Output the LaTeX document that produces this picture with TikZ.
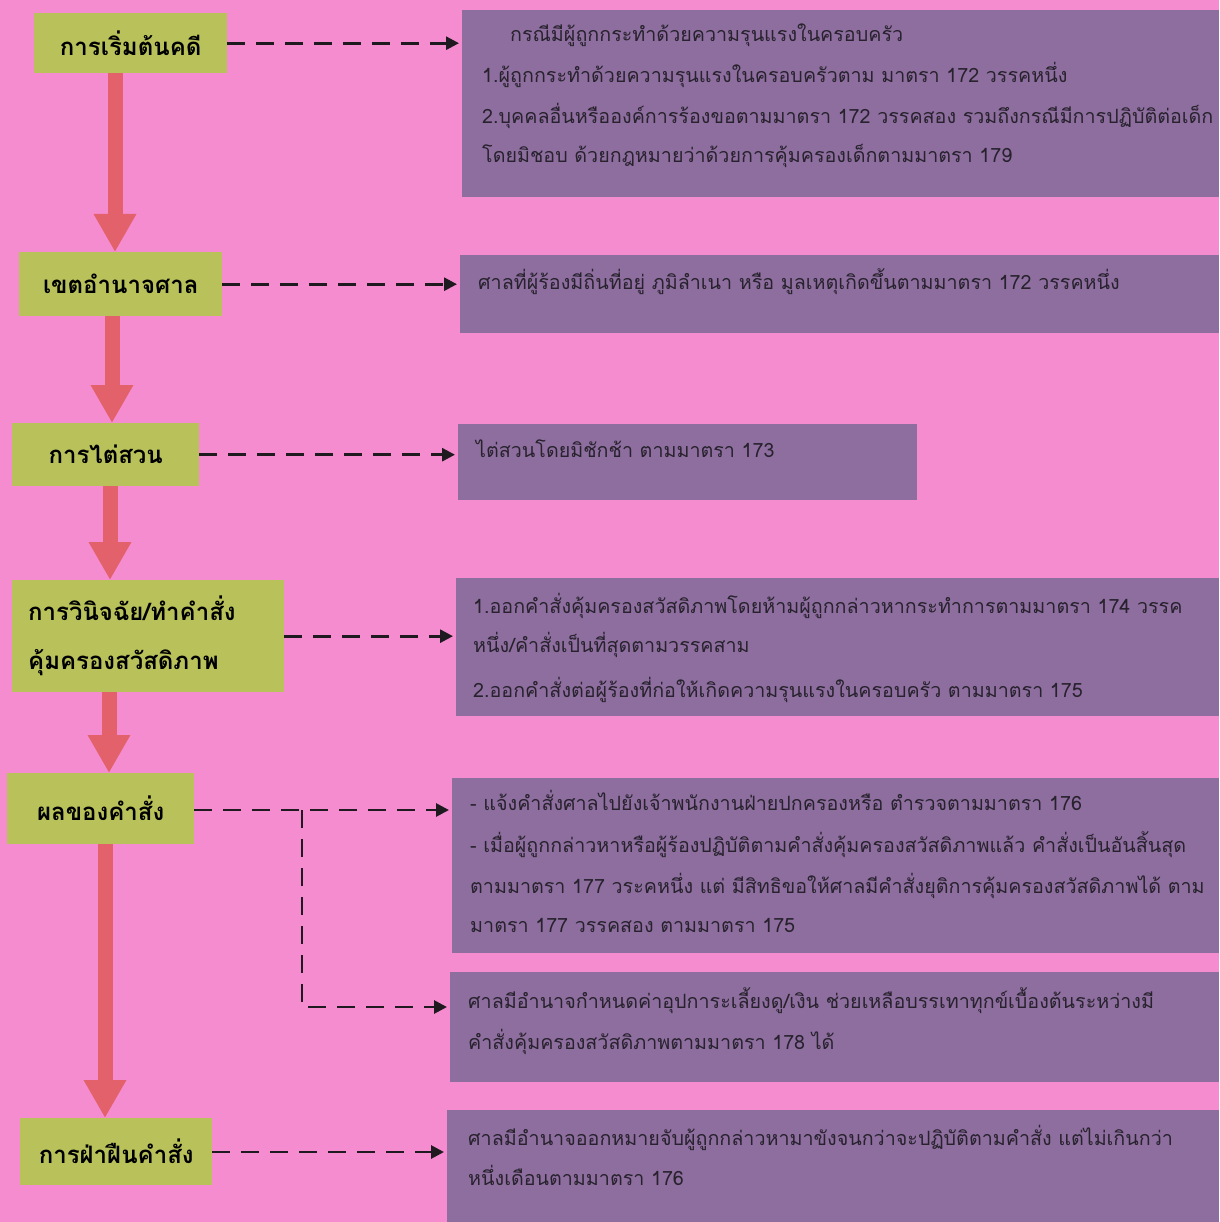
\documentclass[tikz,border=0pt]{standalone}
\usepackage{fontspec}
\setmainfont[Script=Thai]{Loma}
\usetikzlibrary{arrows.meta}
\definecolor{bgpink}{HTML}{F48CCF}
\definecolor{boxgreen}{HTML}{B9C25A}
\definecolor{boxpurple}{HTML}{8E6E9F}
\definecolor{redarrow}{HTML}{E2616A}
\definecolor{txtgray}{HTML}{27222D}
\definecolor{dashcol}{HTML}{1E1A20}
\tikzset{
  gbox/.style={fill=boxgreen, draw=none, inner sep=0pt, font=\fontsize{24}{30}\selectfont\bfseries, text=black, anchor=north west},
  pbox/.style={fill=boxpurple, draw=none, inner sep=0pt, anchor=north west},
  ptext/.style={anchor=base west, inner sep=0pt, font=\fontsize{19.7}{24}\selectfont, text=txtgray},
  redarr/.style={draw=redarrow, line width=15pt, -{Triangle[length=38pt,width=40pt]}},
  dasharr/.style={draw=dashcol, line width=2.8pt, dash pattern=on 18pt off 11pt, -{Triangle[length=13pt,width=13pt]}, shorten >=3pt}
}
\begin{document}
\begin{tikzpicture}[x=1pt,y=-1pt]
\fill[bgpink] (0,0) rectangle (1219,1222);
\useasboundingbox (0,0) rectangle (1219,1222);

% purple boxes
\node[pbox, minimum width=757, minimum height=187] (p1) at (462,10) {};
\node[pbox, minimum width=759, minimum height=78] (p2) at (460,255) {};
\node[pbox, minimum width=459, minimum height=76] (p3) at (458,424) {};
\node[pbox, minimum width=763, minimum height=138] (p4) at (456,578) {};
\node[pbox, minimum width=767, minimum height=175] (p5) at (452,778) {};
\node[pbox, minimum width=769, minimum height=110] (p6) at (450,972) {};
\node[pbox, minimum width=772, minimum height=112] (p7) at (447,1110) {};

% green boxes
\node[gbox, minimum width=193, minimum height=60] (b1) at (34,13) {การเริ่มต้นคดี};
\node[gbox, minimum width=203, minimum height=64] (b2) at (19,252) {เขตอำนาจศาล};
\node[gbox, minimum width=187, minimum height=63] (b3) at (12,423) {การไต่สวน};
\node[gbox, minimum width=272, minimum height=104, text width=240, inner sep=16pt, align=left, font=\fontsize{24}{49}\selectfont\bfseries] (b4) at (12,580) {การวินิจฉัย/ทำคำสั่ง\\คุ้มครองสวัสดิภาพ};
\node[gbox, minimum width=187, minimum height=71] (b5) at (7,773) {ผลของคำสั่ง};
\node[gbox, minimum width=192, minimum height=67] (b6) at (20,1118) {การฝ่าฝืนคำสั่ง};

% red arrows
\draw[redarr] (b1.south -| 115,0) -- (b2.north -| 115,0);
\draw[redarr] (b2.south -| 112,0) -- (b3.north -| 112,0);
\draw[redarr] (b3.south -| 110,0) -- (b4.north -| 110,0);
\draw[redarr] (b4.south -| 109,0) -- (b5.north -| 109,0);
\draw[redarr] (b5.south -| 105,0) -- (b6.north -| 105,0);

% dashed arrows
\draw[dasharr] (b1.east) -- (b1.east -| p1.west);
\draw[dasharr] (b2.east) -- (b2.east -| p2.west);
\draw[dasharr] (b3.east) -- (b3.east -| p3.west);
\draw[dasharr] (b4.east) -- (b4.east -| p4.west);
\coordinate (br) at (302,810);
\draw[dasharr] (b5.east |- br) -- (br -| p5.west);
\draw[dasharr, shorten <=0pt] (br) -- (302,1007) -- (p6.west |- 0,1007);
\draw[dasharr] (b6.east |- 0,1152) -- (p7.west |- 0,1152);

% texts
\node[ptext] (t1a) at (510,42) {กรณีมีผู้ถูกกระทำด้วยความรุนแรงในครอบครัว};
\node[ptext] (t1b) at (482,83) {1.ผู้ถูกกระทำด้วยความรุนแรงในครอบครัวตาม มาตรา 172 วรรคหนึ่ง};
\node[ptext] (t1c) at (482,124) {2.บุคคลอื่นหรือองค์การร้องขอตามมาตรา 172 วรรคสอง รวมถึงกรณีมีการปฏิบัติต่อเด็ก};
\node[ptext] (t1d) at (482,163) {โดยมิชอบ ด้วยกฎหมายว่าด้วยการคุ้มครองเด็กตามมาตรา 179};

\node[ptext] (t2a) at (478,290) {ศาลที่ผู้ร้องมีถิ่นที่อยู่ ภูมิลำเนา หรือ มูลเหตุเกิดขึ้นตามมาตรา 172 วรรคหนึ่ง};

\node[ptext] (t3a) at (476,457) {ไต่สวนโดยมิชักช้า ตามมาตรา 173};

\node[ptext] (t4a) at (473,613) {1.ออกคำสั่งคุ้มครองสวัสดิภาพโดยห้ามผู้ถูกกล่าวหากระทำการตามมาตรา 174 วรรค};
\node[ptext] (t4b) at (473,652) {หนึ่ง/คำสั่งเป็นที่สุดตามวรรคสาม};
\node[ptext] (t4c) at (473,697) {2.ออกคำสั่งต่อผู้ร้องที่ก่อให้เกิดความรุนแรงในครอบครัว ตามมาตรา 175};

\node[ptext] (t5a) at (470,810) {- แจ้งคำสั่งศาลไปยังเจ้าพนักงานฝ่ายปกครองหรือ ตำรวจตามมาตรา 176};
\node[ptext] (t5b) at (470,852) {- เมื่อผู้ถูกกล่าวหาหรือผู้ร้องปฏิบัติตามคำสั่งคุ้มครองสวัสดิภาพแล้ว คำสั่งเป็นอันสิ้นสุด};
\node[ptext] (t5c) at (470,893) {ตามมาตรา 177 วระคหนึ่ง แต่ มีสิทธิขอให้ศาลมีคำสั่งยุติการคุ้มครองสวัสดิภาพได้ ตาม};
\node[ptext] (t5d) at (470,932) {มาตรา 177 วรรคสอง ตามมาตรา 175};

\node[ptext] (t6a) at (468,1008) {ศาลมีอำนาจกำหนดค่าอุปการะเลี้ยงดู/เงิน ช่วยเหลือบรรเทาทุกข์เบื้องต้นระหว่างมี};
\node[ptext] (t6b) at (468,1049) {คำสั่งคุ้มครองสวัสดิภาพตามมาตรา 178 ได้};

\node[ptext] (t7a) at (468,1145) {ศาลมีอำนาจออกหมายจับผู้ถูกกล่าวหามาขังจนกว่าจะปฏิบัติตามคำสั่ง แต่ไม่เกินกว่า};
\node[ptext] (t7b) at (468,1185) {หนึ่งเดือนตามมาตรา 176};
\end{tikzpicture}
\end{document}
